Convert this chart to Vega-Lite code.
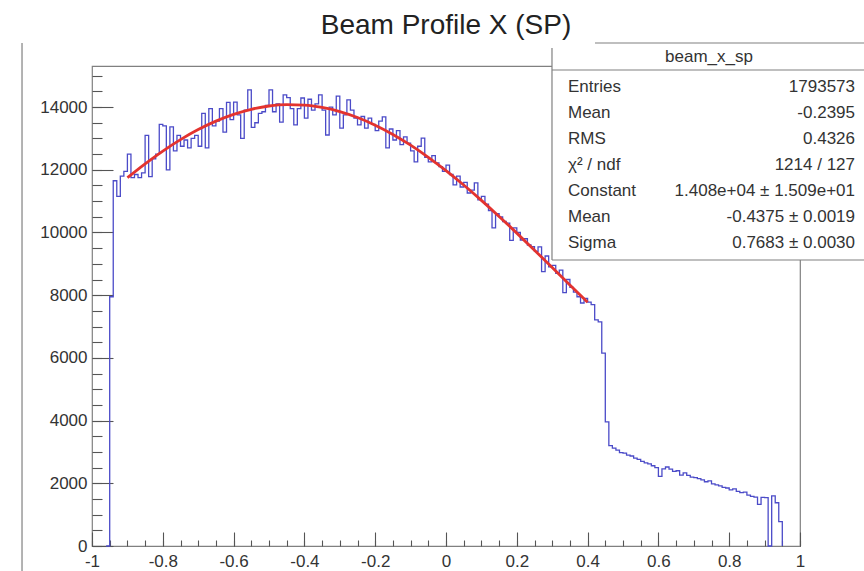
{
  "$schema": "https://vega.github.io/schema/vega-lite/v6.json",
  "width": 708,
  "height": 480,
  "autosize": {"type": "none"},
  "padding": {"left": 92, "top": 66, "right": 64, "bottom": 25},
  "background": "white",
  "title": {"text": "Beam Profile X (SP)", "font": "Liberation Sans", "fontSize": 28, "fontWeight": "normal", "color": "#222222", "anchor": "middle", "frame": "group", "offset": -20, "baseline": "alphabetic"},
  "config": {
    "view": {"stroke": "#808080", "strokeWidth": 1.2},
    "axis": {"grid": false, "domain": false, "title": null, "tickColor": "#555555", "tickWidth": 1.1, "labelFont": "Liberation Sans", "labelFontSize": 17, "labelColor": "#333333", "labelFlush": false, "labelOverlap": false}
  },
  "layer": [
    {
      "layer": [
        {
          "data": {"values": [
            {"x": -0.96, "n": 0}, {"x": -0.95, "n": 7950}, {"x": -0.94, "n": 11650}, {"x": -0.93, "n": 11150}, {"x": -0.92, "n": 11800}, {"x": -0.91, "n": 11950},
            {"x": -0.90, "n": 12500}, {"x": -0.89, "n": 11750}, {"x": -0.88, "n": 11850}, {"x": -0.87, "n": 11750}, {"x": -0.86, "n": 11900},
            {"x": -0.85, "n": 13100}, {"x": -0.84, "n": 11780}, {"x": -0.83, "n": 12350}, {"x": -0.82, "n": 12500}, {"x": -0.81, "n": 13450},
            {"x": -0.80, "n": 13400}, {"x": -0.79, "n": 12000}, {"x": -0.78, "n": 13370}, {"x": -0.77, "n": 12600}, {"x": -0.76, "n": 13100},
            {"x": -0.75, "n": 12750}, {"x": -0.74, "n": 12950}, {"x": -0.73, "n": 12700}, {"x": -0.72, "n": 13000}, {"x": -0.71, "n": 13100},
            {"x": -0.70, "n": 12750}, {"x": -0.69, "n": 13800}, {"x": -0.68, "n": 12700}, {"x": -0.67, "n": 13950}, {"x": -0.66, "n": 13400},
            {"x": -0.65, "n": 13550}, {"x": -0.64, "n": 13950}, {"x": -0.63, "n": 13200}, {"x": -0.62, "n": 14150}, {"x": -0.61, "n": 13600},
            {"x": -0.60, "n": 14160}, {"x": -0.59, "n": 13750}, {"x": -0.58, "n": 13000}, {"x": -0.57, "n": 13900}, {"x": -0.56, "n": 14550},
            {"x": -0.55, "n": 13350}, {"x": -0.54, "n": 13500}, {"x": -0.53, "n": 13800}, {"x": -0.52, "n": 13850}, {"x": -0.51, "n": 14050},
            {"x": -0.50, "n": 14550}, {"x": -0.49, "n": 13850}, {"x": -0.48, "n": 14100}, {"x": -0.47, "n": 13520}, {"x": -0.46, "n": 14390},
            {"x": -0.45, "n": 14300}, {"x": -0.44, "n": 13950}, {"x": -0.43, "n": 13430}, {"x": -0.42, "n": 13950}, {"x": -0.41, "n": 14290},
            {"x": -0.40, "n": 13650}, {"x": -0.39, "n": 14250}, {"x": -0.38, "n": 13900}, {"x": -0.37, "n": 14100}, {"x": -0.36, "n": 14390},
            {"x": -0.35, "n": 13900}, {"x": -0.34, "n": 13110}, {"x": -0.33, "n": 14000}, {"x": -0.32, "n": 13750}, {"x": -0.31, "n": 14350},
            {"x": -0.30, "n": 13330}, {"x": -0.29, "n": 13750}, {"x": -0.28, "n": 14230}, {"x": -0.27, "n": 13900}, {"x": -0.26, "n": 13650},
            {"x": -0.25, "n": 13430}, {"x": -0.24, "n": 13700}, {"x": -0.23, "n": 13330}, {"x": -0.22, "n": 13650}, {"x": -0.21, "n": 13450},
            {"x": -0.20, "n": 13250}, {"x": -0.19, "n": 13550}, {"x": -0.18, "n": 13690}, {"x": -0.17, "n": 12700}, {"x": -0.16, "n": 13300},
            {"x": -0.15, "n": 12950}, {"x": -0.14, "n": 13250}, {"x": -0.13, "n": 12800}, {"x": -0.12, "n": 13050}, {"x": -0.11, "n": 12850},
            {"x": -0.10, "n": 12600}, {"x": -0.09, "n": 12250}, {"x": -0.08, "n": 12750}, {"x": -0.07, "n": 13010}, {"x": -0.06, "n": 12400},
            {"x": -0.05, "n": 12250}, {"x": -0.04, "n": 12450}, {"x": -0.03, "n": 12220}, {"x": -0.02, "n": 12100}, {"x": -0.01, "n": 11950},
            {"x": 0.00, "n": 12150}, {"x": 0.01, "n": 11850}, {"x": 0.02, "n": 11520}, {"x": 0.03, "n": 11800}, {"x": 0.04, "n": 11450},
            {"x": 0.05, "n": 11600}, {"x": 0.06, "n": 11260}, {"x": 0.07, "n": 11350}, {"x": 0.08, "n": 11580}, {"x": 0.09, "n": 11040},
            {"x": 0.10, "n": 11150}, {"x": 0.11, "n": 10900}, {"x": 0.12, "n": 10700}, {"x": 0.13, "n": 10150}, {"x": 0.14, "n": 10600},
            {"x": 0.15, "n": 10500}, {"x": 0.16, "n": 10350}, {"x": 0.17, "n": 10300}, {"x": 0.18, "n": 9750}, {"x": 0.19, "n": 10150},
            {"x": 0.20, "n": 10000}, {"x": 0.21, "n": 9760}, {"x": 0.22, "n": 9800}, {"x": 0.23, "n": 9600}, {"x": 0.24, "n": 9550},
            {"x": 0.25, "n": 9400}, {"x": 0.26, "n": 9540}, {"x": 0.27, "n": 8750}, {"x": 0.28, "n": 9250}, {"x": 0.29, "n": 8900},
            {"x": 0.30, "n": 8950}, {"x": 0.31, "n": 8700}, {"x": 0.32, "n": 8800}, {"x": 0.33, "n": 8080}, {"x": 0.34, "n": 8500},
            {"x": 0.35, "n": 8250}, {"x": 0.36, "n": 8100}, {"x": 0.37, "n": 7950}, {"x": 0.38, "n": 7750}, {"x": 0.39, "n": 7900},
            {"x": 0.40, "n": 7780}, {"x": 0.41, "n": 7700}, {"x": 0.42, "n": 7210}, {"x": 0.43, "n": 7150}, {"x": 0.44, "n": 6150},
            {"x": 0.45, "n": 3960}, {"x": 0.46, "n": 3200}, {"x": 0.47, "n": 3120}, {"x": 0.48, "n": 3060}, {"x": 0.49, "n": 2980},
            {"x": 0.50, "n": 2960}, {"x": 0.51, "n": 2900}, {"x": 0.52, "n": 2870}, {"x": 0.53, "n": 2800}, {"x": 0.54, "n": 2760},
            {"x": 0.55, "n": 2700}, {"x": 0.56, "n": 2650}, {"x": 0.57, "n": 2620}, {"x": 0.58, "n": 2560}, {"x": 0.59, "n": 2500},
            {"x": 0.60, "n": 2220}, {"x": 0.61, "n": 2460}, {"x": 0.62, "n": 2520}, {"x": 0.63, "n": 2450}, {"x": 0.64, "n": 2380},
            {"x": 0.65, "n": 2400}, {"x": 0.66, "n": 2260}, {"x": 0.67, "n": 2330}, {"x": 0.68, "n": 2250}, {"x": 0.69, "n": 2200},
            {"x": 0.70, "n": 2180}, {"x": 0.71, "n": 2150}, {"x": 0.72, "n": 2110}, {"x": 0.73, "n": 2050}, {"x": 0.74, "n": 2080},
            {"x": 0.75, "n": 1980}, {"x": 0.76, "n": 1950}, {"x": 0.77, "n": 1920}, {"x": 0.78, "n": 1870}, {"x": 0.79, "n": 1850},
            {"x": 0.80, "n": 1790}, {"x": 0.81, "n": 1820}, {"x": 0.82, "n": 1740}, {"x": 0.83, "n": 1700}, {"x": 0.84, "n": 1720},
            {"x": 0.85, "n": 1620}, {"x": 0.86, "n": 1580}, {"x": 0.87, "n": 1560}, {"x": 0.88, "n": 1330}, {"x": 0.89, "n": 1550},
            {"x": 0.90, "n": 1540}, {"x": 0.91, "n": 0}, {"x": 0.92, "n": 1600}, {"x": 0.93, "n": 1380}, {"x": 0.94, "n": 780},
            {"x": 0.95, "n": 0}
          ]},
          "mark": {"type": "line", "interpolate": "step-after", "stroke": "#4b4bc8", "strokeWidth": 1.3},
          "encoding": {
            "x": {"field": "x", "type": "quantitative", "scale": {"domain": [-1, 1], "nice": false, "zero": false},
                  "axis": {"orient": "bottom", "values": [-1, -0.8, -0.6, -0.4, -0.2, 0, 0.2, 0.4, 0.6, 0.8, 1], "ticks": false, "labelPadding": 7, "labelExpr": "toString(datum.value)"}},
            "y": {"field": "n", "type": "quantitative", "scale": {"domain": [0, 15310], "nice": false, "zero": true},
                  "axis": {"orient": "left", "values": [0, 2000, 4000, 6000, 8000, 10000, 12000, 14000], "format": "d", "ticks": false, "labelPadding": 5}}
          }
        },
        {
          "data": {"values": [
            {"x": -0.90, "f": 11747}, {"x": -0.85, "f": 12190}, {"x": -0.80, "f": 12597}, {"x": -0.75, "f": 12962}, {"x": -0.70, "f": 13282},
            {"x": -0.65, "f": 13552}, {"x": -0.60, "f": 13769}, {"x": -0.55, "f": 13930}, {"x": -0.50, "f": 14034}, {"x": -0.45, "f": 14078},
            {"x": -0.40, "f": 14063}, {"x": -0.35, "f": 13989}, {"x": -0.30, "f": 13856}, {"x": -0.25, "f": 13667}, {"x": -0.20, "f": 13423},
            {"x": -0.15, "f": 13128}, {"x": -0.10, "f": 12785}, {"x": -0.05, "f": 12398}, {"x": 0.00, "f": 11973}, {"x": 0.05, "f": 11513},
            {"x": 0.10, "f": 11024}, {"x": 0.15, "f": 10511}, {"x": 0.20, "f": 9979}, {"x": 0.25, "f": 9435}, {"x": 0.30, "f": 8883},
            {"x": 0.35, "f": 8327}, {"x": 0.40, "f": 7773}
          ]},
          "mark": {"type": "line", "interpolate": "monotone", "stroke": "#e3332f", "strokeWidth": 2.8},
          "encoding": {
            "x": {"field": "x", "type": "quantitative",
                  "axis": {"orient": "bottom", "values": [-1, -0.8, -0.6, -0.4, -0.2, 0, 0.2, 0.4, 0.6, 0.8, 1], "labels": false, "tickSize": -14}},
            "y": {"field": "f", "type": "quantitative",
                  "axis": {"orient": "left", "values": [0, 2000, 4000, 6000, 8000, 10000, 12000, 14000], "labels": false, "tickSize": -21}}
          }
        },
        {
          "data": {"values": [{}]},
          "mark": {"type": "rule", "stroke": "#808080", "strokeWidth": 1.2},
          "encoding": {
            "x": {"datum": -1.1977, "type": "quantitative",
                  "axis": {"orient": "bottom", "values": [-1, -0.95, -0.9, -0.85, -0.8, -0.75, -0.7, -0.65, -0.6, -0.55, -0.5, -0.45, -0.4, -0.35, -0.3, -0.25, -0.2, -0.15, -0.1, -0.05, 0, 0.05, 0.1, 0.15, 0.2, 0.25, 0.3, 0.35, 0.4, 0.45, 0.5, 0.55, 0.6, 0.65, 0.7, 0.75, 0.8, 0.85, 0.9, 0.95, 1], "labels": false, "tickSize": -6}},
            "y": {"datum": -800, "type": "quantitative",
                  "axis": {"orient": "left", "values": [0, 500, 1000, 1500, 2000, 2500, 3000, 3500, 4000, 4500, 5000, 5500, 6000, 6500, 7000, 7500, 8000, 8500, 9000, 9500, 10000, 10500, 11000, 11500, 12000, 12500, 13000, 13500, 14000, 14500, 15000], "labels": false, "tickSize": -10}},
            "y2": {"datum": 16044}
          }
        }
      ],
      "resolve": {"axis": {"x": "independent", "y": "independent"}}
    },
    {
      "data": {"values": [
        {"row": 1, "label": "Entries", "value": "1793573"},
        {"row": 2, "label": "Mean", "value": "-0.2395"},
        {"row": 3, "label": "RMS", "value": "0.4326"},
        {"row": 4, "label": "χ² / ndf", "value": "1214 / 127"},
        {"row": 5, "label": "Constant", "value": "1.408e+04 ± 1.509e+01"},
        {"row": 6, "label": "Mean", "value": "-0.4375 ± 0.0019"},
        {"row": 7, "label": "Sigma", "value": "0.7683 ± 0.0030"}
      ]},
      "layer": [
        {
          "data": {"values": [{}]},
          "mark": {"type": "rect", "fill": "white", "strokeWidth": 0},
          "encoding": {
            "x": {"datum": 0.2994, "type": "quantitative", "axis": null},
            "x2": {"datum": 1.2},
            "y": {"datum": -0.5, "type": "quantitative", "axis": null, "scale": {"domain": [0.1923, 18.6538], "reverse": true, "nice": false, "zero": false}},
            "y2": {"datum": 7.654}
          }
        },
        {
          "data": {"values": [{}]},
          "mark": {"type": "rule", "stroke": "#808080", "strokeWidth": 1.2},
          "encoding": {
            "x": {"datum": 0.4209, "type": "quantitative", "axis": null},
            "x2": {"datum": 1.2},
            "y": {"datum": -0.692, "type": "quantitative", "axis": null}
          }
        },
        {
          "data": {"values": [{}]},
          "mark": {"type": "rule", "stroke": "#808080", "strokeWidth": 1.2},
          "encoding": {
            "x": {"datum": 0.2994, "type": "quantitative", "axis": null},
            "x2": {"datum": 1.2},
            "y": {"datum": 0.346, "type": "quantitative", "axis": null}
          }
        },
        {
          "data": {"values": [{}]},
          "mark": {"type": "rule", "stroke": "#808080", "strokeWidth": 1.2},
          "encoding": {
            "x": {"datum": 0.2994, "type": "quantitative", "axis": null},
            "x2": {"datum": 1.2},
            "y": {"datum": 7.654, "type": "quantitative", "axis": null}
          }
        },
        {
          "data": {"values": [{}]},
          "mark": {"type": "rule", "stroke": "#808080", "strokeWidth": 1.2},
          "encoding": {
            "x": {"datum": 0.2994, "type": "quantitative", "axis": null},
            "y": {"datum": -0.5, "type": "quantitative", "axis": null},
            "y2": {"datum": 7.654}
          }
        },
        {
          "data": {"values": [{"t": "beam_x_sp"}]},
          "mark": {"type": "text", "align": "center", "baseline": "middle", "font": "Liberation Sans", "fontSize": 17, "color": "#333333"},
          "encoding": {
            "x": {"datum": 0.7429, "type": "quantitative", "axis": null},
            "y": {"datum": -0.154, "type": "quantitative", "axis": null},
            "text": {"field": "t"}
          }
        },
        {
          "mark": {"type": "text", "align": "left", "baseline": "middle", "font": "Liberation Sans", "fontSize": 17, "color": "#333333"},
          "encoding": {
            "x": {"datum": 0.3446, "type": "quantitative", "axis": null},
            "y": {"field": "row", "type": "quantitative", "axis": null},
            "text": {"field": "label"}
          }
        },
        {
          "mark": {"type": "text", "align": "right", "baseline": "middle", "font": "Liberation Sans", "fontSize": 17, "color": "#333333"},
          "encoding": {
            "x": {"datum": 1.1554, "type": "quantitative", "axis": null},
            "y": {"field": "row", "type": "quantitative", "axis": null},
            "text": {"field": "value"}
          }
        }
      ]
    }
  ],
  "resolve": {"scale": {"y": "independent"}, "axis": {"x": "independent", "y": "independent"}}
}
